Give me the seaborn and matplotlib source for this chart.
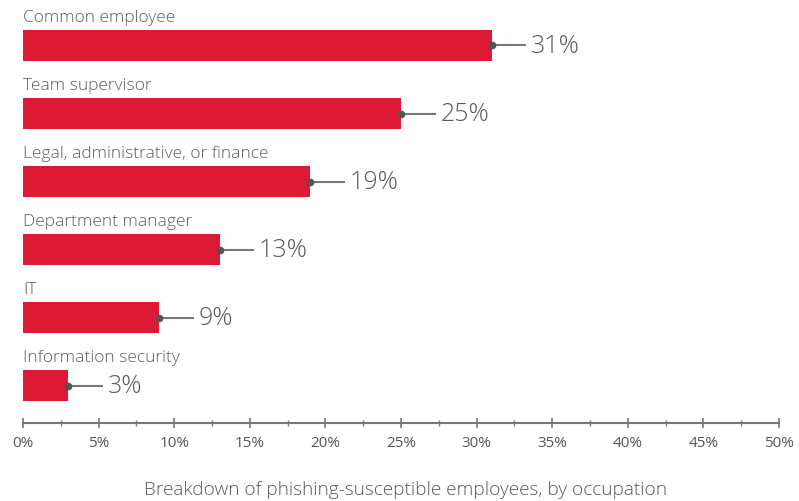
import matplotlib
matplotlib.use("Agg")
import matplotlib.pyplot as plt
import seaborn as sns
import pandas as pd
from matplotlib.ticker import MultipleLocator, FuncFormatter

categories = ["Common employee", "Team supervisor", "Legal, administrative, or finance",
              "Department manager", "IT", "Information security"]
values = [31, 25, 19, 13, 9, 3]
xlabel = "Breakdown of phishing-susceptible employees, by occupation"

df = pd.DataFrame({"cat": categories, "val": values})

sns.set_theme(style="white")
plt.rcParams['font.family'] = ['Open Sans', 'DejaVu Sans']

fig = plt.figure(figsize=(7.99, 5.01), dpi=100)
ax = fig.add_axes([23/799, 1 - 423/501, (779 - 23)/799, 423/501])

sns.barplot(data=df, x="val", y="cat", orient="h", color="#DC1A35",
            saturation=1, width=0.456, linewidth=0, edgecolor="none", ax=ax)

ax.set_xlim(0, 50)
ax.set_ylim(5.551, -0.669)
ax.set_yticks([])
ax.set_ylabel("")
ax.set_xlabel("")
fig.text(405/799, 1 - 490/501, xlabel, fontsize=13.7, color="#5a5a5a", ha="center",
         va="center", fontweight="light")

for i, (c, v) in enumerate(zip(categories, values)):
    ax.text(0, i - 0.41, c, fontsize=12.5, color="#5e5e5e", va="center", ha="left",
            fontweight="light")
    ax.plot([v, v + 2.3], [i, i], color="#777777", lw=1.5, solid_capstyle="butt", zorder=3)
    ax.plot([v], [i], marker="o", ms=4.5, color="#555555", zorder=4)
    ax.text(v + 2.6, i + 0.02, f"{v}%", fontsize=18, color="#5a5a5a", va="center",
            ha="left", fontweight="light")

for s in ["top", "right", "left"]:
    ax.spines[s].set_visible(False)
ax.spines["bottom"].set_color("#777777")
ax.spines["bottom"].set_linewidth(1.5)

ax.xaxis.set_major_locator(MultipleLocator(5))
ax.xaxis.set_minor_locator(MultipleLocator(2.5))
ax.xaxis.set_major_formatter(FuncFormatter(lambda x, p: f"{int(x)}%"))
ax.tick_params(axis="x", which="major", direction="inout", length=7, width=1.2,
               color="#777777", labelsize=11, labelcolor="#555555", pad=6, bottom=True)
ax.tick_params(axis="x", which="minor", direction="inout", length=4, width=1.0,
               color="#777777", bottom=True)

fig.savefig("out.png", dpi=100)
